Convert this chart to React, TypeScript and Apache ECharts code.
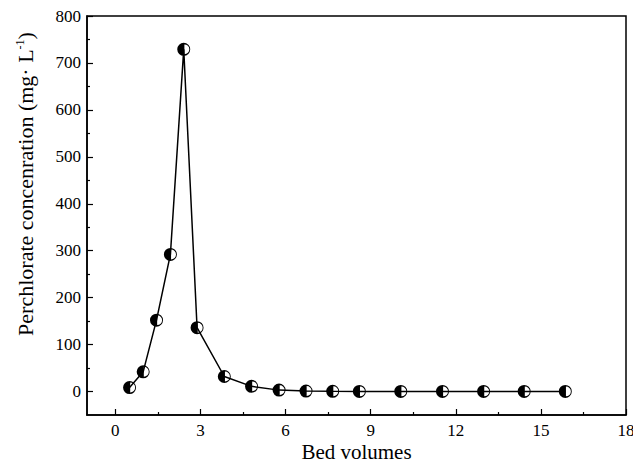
import React, { useEffect, useRef } from "react";
import * as echarts from "echarts";

const bedVolumes = [0.5, 0.98, 1.45, 1.94, 2.41, 2.88, 3.84, 4.8, 5.77, 6.72, 7.66, 8.6, 10.06, 11.53, 12.98, 14.41, 15.86];
const concentration = [8.5, 42, 152, 292, 729, 136, 32, 11, 3, 1, 0.5, 0.3, 0.3, 0.3, 0.3, 0.3, 0.3];
const xTicks = [0, 3, 6, 9, 12, 15, 18];
const xMinorTicks = [1.5, 4.5, 7.5, 10.5, 13.5, 16.5];
const yTicks = [0, 100, 200, 300, 400, 500, 600, 700, 800];
const yMinorTicks = [50, 150, 250, 350, 450, 550, 650, 750];

const FONT = "Liberation Serif";
const MARKER =
  "path://M0,-10A10,10,0,1,1,0,10A10,10,0,1,1,0,-10ZM1,-7.6L1,7.6A7.6,7.6,0,0,0,1,-7.6Z";

export default function App() {
  const ref = useRef<HTMLDivElement>(null);
  useEffect(() => {
    if (!ref.current) return;
    const chart = echarts.init(ref.current, undefined, { renderer: "svg" });
    const axisLine = { show: true, onZero: false, lineStyle: { color: "#000", width: 1.5 } };
    chart.setOption({
      animation: false,
      backgroundColor: "#fff",
      grid: {
        left: 87,
        top: 16,
        right: 7,
        bottom: 50,
        outerBoundsMode: "none",
        containLabel: false,
        show: true,
        borderColor: "#000",
        borderWidth: 1.5,
        backgroundColor: "transparent",
      },
      xAxis: [
        {
          type: "value",
          min: -1,
          max: 18,
          axisLine,
          splitLine: { show: false },
          axisTick: { show: true, inside: true, length: 6, customValues: xTicks, lineStyle: { color: "#000", width: 1.2 } },
          axisLabel: {
            customValues: xTicks,
            margin: 7,
            color: "#000",
            fontFamily: FONT,
            fontSize: 17,
            lineHeight: 17,
          },
          name: "Bed volumes",
          nameLocation: "middle",
          nameGap: 26,
          nameMoveOverlap: false,
          nameTextStyle: { color: "#000", fontFamily: FONT, fontSize: 21, lineHeight: 21 },
        },
        {
          type: "value",
          min: -1,
          max: 18,
          position: "bottom",
          axisLine: { show: false, onZero: false },
          splitLine: { show: false },
          axisTick: { show: true, inside: true, length: 3, customValues: xMinorTicks, lineStyle: { color: "#000", width: 1.2 } },
          axisLabel: { show: false },
        },
      ],
      yAxis: [
        {
          type: "value",
          min: -50,
          max: 800,
          axisLine,
          splitLine: { show: false },
          axisTick: { show: true, inside: true, length: 6, customValues: yTicks, lineStyle: { color: "#000", width: 1.2 } },
          axisLabel: {
            customValues: yTicks,
            margin: 6,
            color: "#000",
            fontFamily: FONT,
            fontSize: 17,
          },
        },
        {
          type: "value",
          min: -50,
          max: 800,
          position: "left",
          axisLine: { show: false, onZero: false },
          splitLine: { show: false },
          axisTick: { show: true, inside: true, length: 3, customValues: yMinorTicks, lineStyle: { color: "#000", width: 1.2 } },
          axisLabel: { show: false },
        },
      ],
      graphic: [
        {
          type: "text",
          x: 25,
          y: 184,
          rotation: Math.PI / 2,
          style: {
            text: "Perchlorate concenration (mg· L{sup|-1})",
            fontFamily: FONT,
            fontSize: 22,
            fill: "#000",
            align: "center",
            verticalAlign: "middle",
            rich: {
              sup: { fontFamily: FONT, fontSize: 12, fill: "#000", verticalAlign: "top", padding: [0, 0, 10, 0] },
            },
          },
        },
      ],
      series: [
        {
          type: "line",
          xAxisIndex: 0,
          yAxisIndex: 0,
          data: bedVolumes.map((x, i) => [x, concentration[i]]),
          symbol: MARKER,
          symbolSize: 13,
          showAllSymbol: true,
          lineStyle: { color: "#000", width: 1.5 },
          itemStyle: { color: "#000", borderWidth: 0 },
        },
      ],
    });
    return () => chart.dispose();
  }, []);
  return (
    <div
      ref={ref}
      style={{ position: "absolute", left: 0, top: 0, width: 633, height: 465, background: "#fff" }}
    />
  );
}
